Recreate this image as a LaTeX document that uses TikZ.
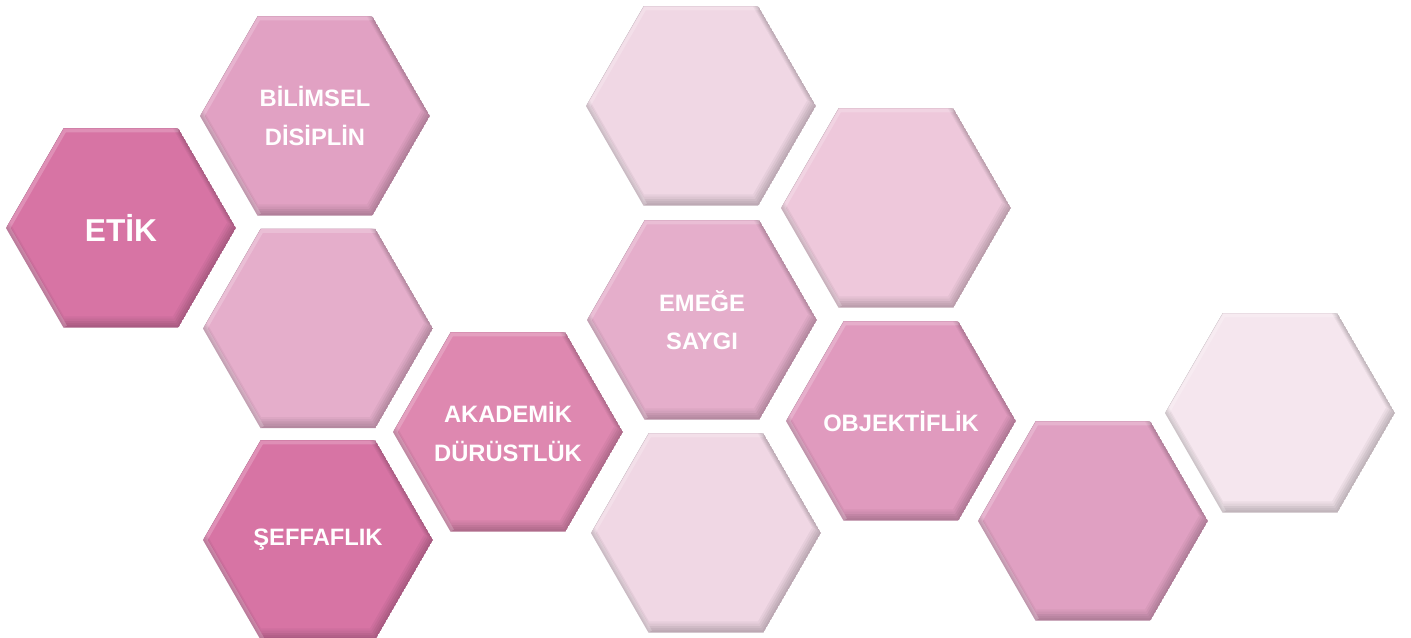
\documentclass[tikz,border=0pt]{standalone}
\usepackage{fontspec}
\setmainfont{Liberation Sans}
\usepackage{tikz, xcolor}
\usetikzlibrary{calc}

\definecolor{hexA}{HTML}{D975A6}
\definecolor{hexB}{HTML}{E3A3C5}
\definecolor{hexC}{HTML}{E7B0CD}
\definecolor{hexD}{HTML}{E089B2}
\definecolor{hexE}{HTML}{F2D9E6}
\definecolor{hexF}{HTML}{F0CADD}
\definecolor{hexG}{HTML}{E29BC0}
\definecolor{hexH}{HTML}{E2A2C4}
\definecolor{hexI}{HTML}{F7E8F0}

\newcommand\hexpath[1]{(0:#1) -- (60:#1) -- (120:#1) -- (180:#1) -- (240:#1) -- (300:#1) -- cycle}

\begin{document}
\begin{tikzpicture}[x=0.2mm, y=-0.2mm,
    hextext/.style={text=white, font=\fontsize{13.5}{22}\selectfont\bfseries, align=center},
    hexbig/.style={text=white, font=\fontsize{18}{22}\selectfont\bfseries},
    rim/.style={white, opacity=0.2, line width=1.6mm, line join=round},
    ]

    \useasboundingbox (0,0) rectangle (1411,637);

    % hexagons, bevel made of stacked layers
    \foreach \cx/\cy/\col [count=\i] in {121/228/hexA, 315/116/hexB, 318/328.5/hexC,
        318/540/hexA, 508/432/hexD, 701/106/hexE, 702/320/hexC, 706/533/hexE,
        896/208/hexF, 901/421/hexG, 1093/521/hexH, 1280/413/hexI} {
        \coordinate (h\i) at (\cx,\cy);
        \begin{scope}[shift={(h\i)}]
            \clip \hexpath{115};
            \fill[\col!78!black] \hexpath{115};
            \foreach \k in {1,...,5} {
                \pgfmathtruncatemacro\p{78+4.4*\k}
                \fill[\col!\p!black, shift={(-0.5*\k,-1.1*\k)}] \hexpath{115-1.3*\k};
            }
            \draw[rim] (120:115) -- (180:115) -- (240:115) -- (300:115);
        \end{scope}
    }

    \node (etik)[hexbig] at (h1) {ETİK};
    \node (bilimsel)[hextext] at (h2) {BİLİMSEL\\DİSİPLİN};
    \node (seffaflik)[hextext] at (h4) {ŞEFFAFLIK};
    \node (akademik)[hextext] at (h5) {AKADEMİK\\DÜRÜSTLÜK};
    \node (emege)[hextext] at (h7) {EMEĞE\\SAYGI};
    \node (objektiflik)[hextext] at (h10) {OBJEKTİFLİK};

\end{tikzpicture}
\end{document}
